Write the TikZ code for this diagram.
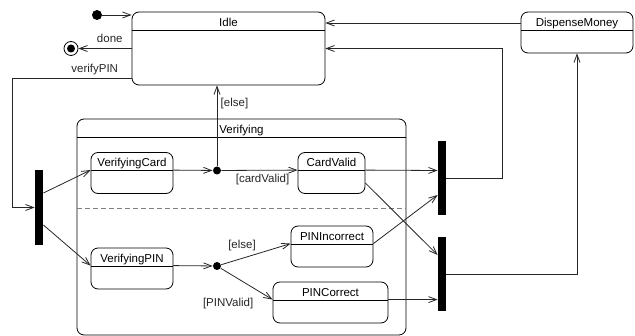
\documentclass[tikz,border=0pt]{standalone}
\usepackage{fontspec}
\setmainfont{Liberation Sans}
\usetikzlibrary{arrows.meta}

\begin{document}
\begin{tikzpicture}[x=1pt, y=-1pt, line width=0.8pt, font=\fontsize{11.5}{13}\selectfont,
    umlstate/.style={draw, rounded corners=7pt, minimum height=41pt, inner sep=0pt,
      path picture={\draw ([yshift=-18pt]path picture bounding box.north west)
        -- ([yshift=-18pt]path picture bounding box.north east);},
      label={[anchor=base, yshift=-14.5pt, inner sep=0pt]north:#1}},
    bar/.style={fill, minimum width=8pt, minimum height=74pt, inner sep=0pt},
    junction/.style={circle, fill, minimum size=8pt, inner sep=0pt},
    conn/.style={black!85, -{Straight Barb[length=8pt,width=6pt]}}]
    \useasboundingbox (0,0) rectangle (635,336);

    % states
    \node[umlstate=Idle, minimum width=193pt, minimum height=73pt] (idle) at (228.5,48.5) {};
    \node[umlstate=DispenseMoney, minimum width=112pt] (dispense) at (577,32.5) {};
    \node[umlstate=Verifying, minimum width=329pt, minimum height=216pt] (verifying) at (241.5,227) {};
    \node[umlstate=VerifyingCard, minimum width=82pt] (vcard) at (132,173) {};
    \node[umlstate=CardValid, minimum width=67pt] (cvalid) at (331.5,173) {};
    \node[umlstate=VerifyingPIN, minimum width=82pt] (vpin) at (132,268.5) {};
    \node[umlstate=PINIncorrect, minimum width=82pt] (pininc) at (332,246.5) {};
    \node[umlstate=PINCorrect, minimum width=115pt] (pincor) at (330.5,302.5) {};
    \draw[gray, dash pattern=on 5pt off 3pt]
        (verifying.west |- 0,208) -- (verifying.east |- 0,208);

    % pseudo states
    \node[bar, minimum height=75pt] (fork) at (39,207.5) {};
    \node[bar] (join1) at (442,178) {};
    \node[bar] (join2) at (442,274) {};
    \node[junction] (jcard) at (217,170.5) {};
    \node[junction] (jpin) at (217,266) {};
    \node[circle, fill, minimum size=10pt, inner sep=0pt] (start) at (97,15) {};
    \node[circle, draw, minimum size=14pt, inner sep=0pt,
      path picture={\fill (path picture bounding box.center) circle (4pt);}] (final) at (71,48.5) {};

    % transitions
    \draw[conn] (start) -- (start -| idle.west);
    \draw[conn] (idle.west) -- (final) node[pos=0.41, above=2pt] {done};
    \draw[conn] ([yshift=7pt]idle.south west) -| node[pos=0.155, above] {verifyPIN}
        ([xshift=-22pt]fork.west) -- (fork.west);
    \draw[conn] ([yshift=14.5pt]fork.east) -- ([yshift=-18pt]vcard.north west);
    \draw[conn] ([yshift=-17.5pt]fork.east) -- ([yshift=-18pt]vpin.north west);
    \draw[conn] ([yshift=-18pt]vcard.north east) -- (jcard);
    \draw[conn] (jcard) -- (jcard |- idle.south) node[pos=0.78, right] {[else]};
    \draw[conn] (jcard) -- ([yshift=-18pt]cvalid.north west) node[pos=0.54, below] {[cardValid]};
    \draw[conn] ([yshift=-18pt]cvalid.north east) -- (join1.west |- jcard);
    \draw[conn] ([yshift=-10pt]cvalid.east) -- ([yshift=19pt]join2.west);
    \draw[conn] ([yshift=-18pt]vpin.north east) -- (jpin);
    \draw[conn] (jpin) -- ([yshift=-18pt]pininc.north west) node[pos=0.3, above=4pt] {[else]};
    \draw[conn] (jpin) -- ([yshift=-18pt]pincor.north west)
        node[pos=0.7, anchor=north east, yshift=-4pt] {[PINValid]};
    \draw[conn] ([yshift=-18pt]pininc.north east) -- ([yshift=-17pt]join1.west);
    \draw[conn] ([yshift=-18pt]pincor.north east) -- ([yshift=-18pt]pincor.north east -| join2.west);
    \draw[conn] (join1.east) -| ([xshift=177pt]idle.east) -- (idle.east);
    \draw[conn] (join2.east) -| (dispense.south);
    \draw[conn] ([yshift=9.5pt]dispense.west) -- ([yshift=9.5pt]dispense.west -| idle.east);
\end{tikzpicture}
\end{document}
